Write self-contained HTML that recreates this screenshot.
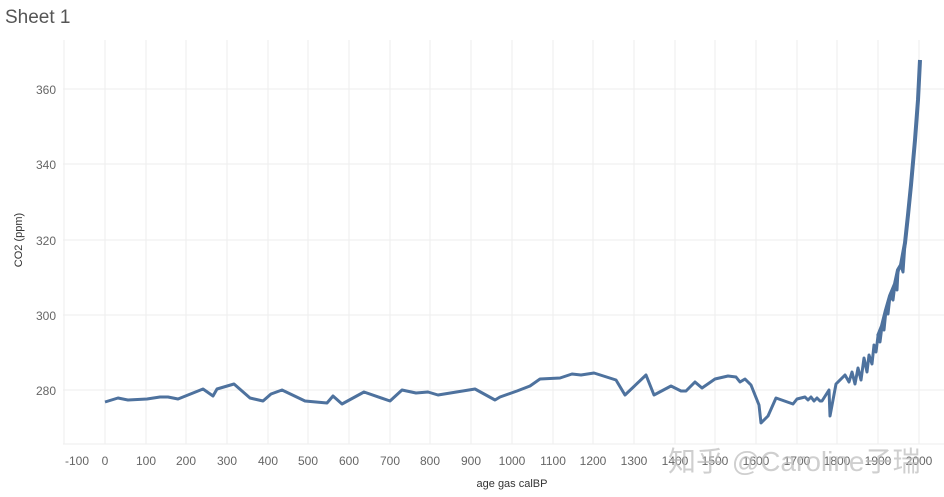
<!DOCTYPE html>
<html><head><meta charset="utf-8"><style>
body{margin:0;background:#fff;width:944px;height:497px;overflow:hidden;font-family:"Liberation Sans","Noto Sans CJK SC",sans-serif}
</style></head><body>
<svg width="944" height="497" xmlns="http://www.w3.org/2000/svg" style="position:absolute;left:0;top:0">
<text x="5" y="23" font-size="19" fill="#555" font-family="Liberation Sans, sans-serif">Sheet 1</text>
<g stroke="#eeeeee" stroke-width="1">
<line x1="63" y1="89" x2="944" y2="89"/><line x1="63" y1="164" x2="944" y2="164"/>
<line x1="63" y1="240" x2="944" y2="240"/><line x1="63" y1="315" x2="944" y2="315"/>
<line x1="63" y1="390" x2="944" y2="390"/>
<line x1="64" y1="40" x2="64" y2="444"/>
<line x1="105" y1="40" x2="105" y2="444"/><line x1="146" y1="40" x2="146" y2="444"/>
<line x1="186" y1="40" x2="186" y2="444"/><line x1="227" y1="40" x2="227" y2="444"/>
<line x1="268" y1="40" x2="268" y2="444"/><line x1="308" y1="40" x2="308" y2="444"/>
<line x1="349" y1="40" x2="349" y2="444"/><line x1="390" y1="40" x2="390" y2="444"/>
<line x1="430" y1="40" x2="430" y2="444"/><line x1="471" y1="40" x2="471" y2="444"/>
<line x1="512" y1="40" x2="512" y2="444"/><line x1="553" y1="40" x2="553" y2="444"/>
<line x1="593" y1="40" x2="593" y2="444"/><line x1="634" y1="40" x2="634" y2="444"/>
<line x1="675" y1="40" x2="675" y2="444"/><line x1="715" y1="40" x2="715" y2="444"/>
<line x1="756" y1="40" x2="756" y2="444"/><line x1="797" y1="40" x2="797" y2="444"/>
<line x1="837" y1="40" x2="837" y2="444"/><line x1="878" y1="40" x2="878" y2="444"/>
<line x1="919" y1="40" x2="919" y2="444"/>
<line x1="63" y1="444" x2="944" y2="444"/>
</g>
<g font-size="12" fill="#666" text-anchor="end">
<text x="56" y="94">360</text><text x="56" y="169">340</text><text x="56" y="245">320</text>
<text x="56" y="320">300</text><text x="56" y="395">280</text>
</g>
<g font-size="12" fill="#666" text-anchor="middle">
<text x="77" y="465">-100</text><text x="105" y="465">0</text><text x="146" y="465">100</text>
<text x="186" y="465">200</text><text x="227" y="465">300</text><text x="268" y="465">400</text>
<text x="308" y="465">500</text><text x="349" y="465">600</text><text x="390" y="465">700</text>
<text x="430" y="465">800</text><text x="471" y="465">900</text><text x="512" y="465">1000</text>
<text x="553" y="465">1100</text><text x="593" y="465">1200</text><text x="634" y="465">1300</text>
<text x="675" y="465">1400</text><text x="715" y="465">1500</text><text x="756" y="465">1600</text>
<text x="797" y="465">1700</text><text x="837" y="465">1800</text><text x="878" y="465">1900</text>
<text x="919" y="465">2000</text>
</g>
<text x="512" y="487" font-size="11" fill="#333" text-anchor="middle">age gas calBP</text>
<text transform="translate(22,240) rotate(-90)" font-size="11" fill="#333" text-anchor="middle">CO2 (ppm)</text>
<polyline fill="none" stroke="#4e729e" stroke-width="3" stroke-linejoin="round" points="
105,402 118,398 128,400 147,399 160,397 168,397 178,399 203,389 213,396 217,389 234,384 250,398 263,401 271,394 282,390 305,401 327,403 333,396 342,404 364,392 390,401 402,390 416,393 428,392 438,395 475,389 495,400
500,397 517,391 530,386 540,379 560,378 572,374 581,375 594,373 616,380 625,395 646,375 654,395 671,386 681,391 686,391 695,382 702,388 715,379 728,376 736,377 740,382 745,379 751,385 759,405 761,423 768,416 776,398 793,404 797,399 805,397 808,400 811,397 814,401 817,398 820,401 822,401 829,390 830,416 836,384 845,375 849,382 852,372 855,384 858,368 861,380 864,358 867,372 869,355 872,364 874,345 876,352 878,336 880,342 882,326 884,330 886,310 888,314 890,296 893,300 895,284 897,290 898,270 901,265 903,272 905,243 908,215 911,185 915,140 918,100 920,60"/>
<polyline fill="none" stroke="#4e729e" stroke-width="4" stroke-linejoin="round" points="878,336 882,326 886,310 890,296 895,284 898,270 901,265 905,243 908,215 911,185 915,140 918,100 920,60"/>
<text x="668" y="471" font-size="28" fill="#bbb" fill-opacity="0.7">知乎 @Caroline子瑞</text>
</svg>
</body></html>
